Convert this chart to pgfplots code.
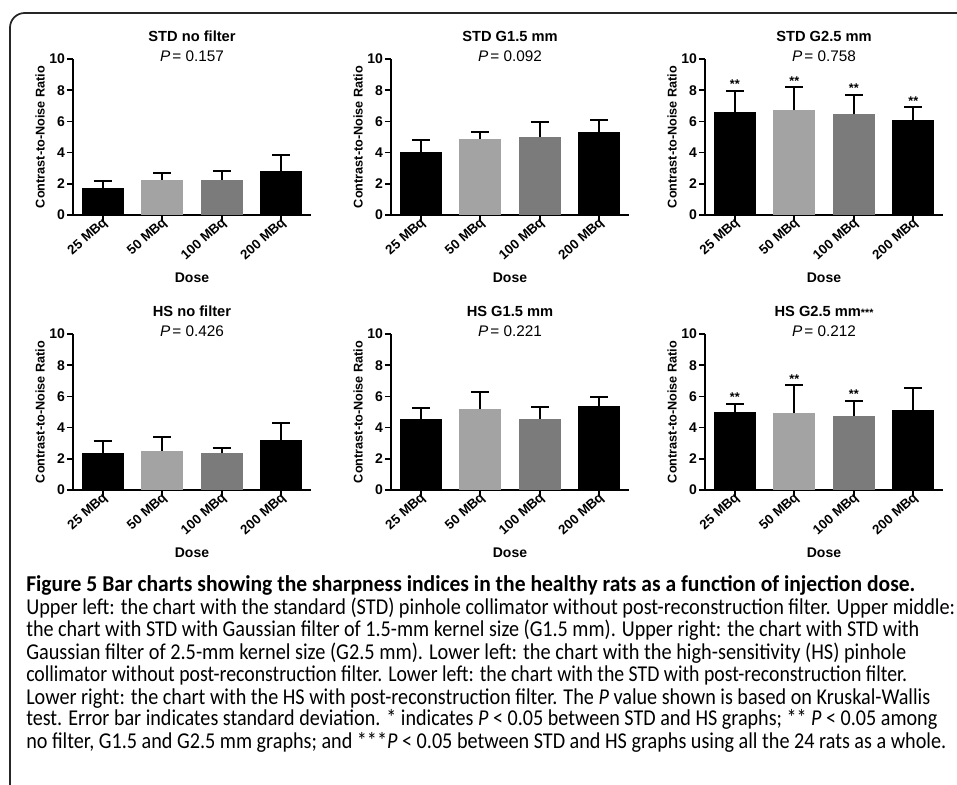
\documentclass[border=0pt]{standalone}
\usepackage{fontspec}
\setmainfont{Liberation Sans}
\newfontfamily\capfont{Carlito}
\usepackage{graphicx}
\usepackage{pgfplots}
\pgfplotsset{compat=1.18}

\definecolor{lgray}{HTML}{A3A3A3}
\definecolor{mgray}{HTML}{7B7B7B}

\pgfplotsset{
  panel/.style={
    scale only axis, width=178.5pt, height=117pt,
    axis lines=left, axis line style={line width=1.7pt, -},
    xmin=0.5, xmax=4.5, ymin=0, ymax=10,
    xtick={1,2,3,4}, xticklabels={25 MBq,50 MBq,100 MBq,200 MBq},
    ytick={0,2,4,6,8,10},
    tick align=outside, major tick length=4.5pt,
    tick style={line width=1.3pt, black},
    /pgf/number format/assume math mode=true,
    yticklabel style={font=\bfseries\fontsize{10.5}{10.5}\selectfont, xshift=2pt},
    xticklabel style={font=\bfseries\fontsize{10}{10}\selectfont, rotate=42, anchor=east, xshift=5pt, yshift=-1.5pt},
    xlabel={Dose},
    xlabel style={font=\bfseries\fontsize{10.5}{10.5}\selectfont, at={(axis description cs:0.5,-0.404)}, anchor=center},
    ylabel={Contrast-to-Noise Ratio},
    ylabel style={font=\bfseries\fontsize{9.5}{9.5}\selectfont, at={(axis description cs:-0.138,0.5)}, anchor=center},
    clip=false,
  },
  cbar/.style={ybar, bar width=31.5pt, bar shift=0pt, draw=none, fill=#1,
    error bars/.cd, y dir=plus, y explicit,
    error bar style={line width=1.5pt, black},
    error mark options={rotate=90, line width=1.5pt, mark size=6.75pt, black}},
}

\newcommand\heads[2]{%
  \node[font=\bfseries\fontsize{11}{11}\selectfont] at (rel axis cs:0.5,1.145) {#1};
  \node[font=\fontsize{11.5}{11.5}\selectfont] at (rel axis cs:0.5,1.02) {\textit{P}\hspace{1.5pt}= #2};}
\newcommand\st[2]{\node[font=\bfseries\fontsize{9.5}{9.5}\selectfont, anchor=south, inner sep=0pt, yshift=1.5pt] at (axis cs:#1,#2) {**};}
\newcommand\capl[3]{\node[anchor=base west, inner sep=0pt] at (19.5pt,#1) {\resizebox{#2}{\height}{\capfont\fontsize{17}{17}\selectfont #3}};}

\begin{document}
\begin{tikzpicture}
\useasboundingbox (0,0) rectangle (717.75pt,588.75pt);
\draw[line width=1.3pt, black!85, rounded corners=11pt] (7.5pt,-20pt) -- (7.5pt,579pt) -- (740pt,579pt);

% ---------- STD no filter
\begin{axis}[panel, at={(54.75pt,427.5pt)}]
\addplot[cbar=black] coordinates {(1,1.73) +- (0,0.47)};
\addplot[cbar=lgray] coordinates {(2,2.26) +- (0,0.43)};
\addplot[cbar=mgray] coordinates {(3,2.26) +- (0,0.58)};
\addplot[cbar=black] coordinates {(4,2.84) +- (0,1.01)};
\heads{STD no filter}{0.157}
\end{axis}

% ---------- STD G1.5 mm
\begin{axis}[panel, at={(293.25pt,427.5pt)}]
\addplot[cbar=black] coordinates {(1,4.06) +- (0,0.76)};
\addplot[cbar=lgray] coordinates {(2,4.88) +- (0,0.47)};
\addplot[cbar=mgray] coordinates {(3,5.03) +- (0,0.93)};
\addplot[cbar=black] coordinates {(4,5.35) +- (0,0.74)};
\heads{STD G1.5 mm}{0.092}
\end{axis}

% ---------- STD G2.5 mm
\begin{axis}[panel, at={(528.75pt,427.5pt)}]
\addplot[cbar=black] coordinates {(1,6.58) +- (0,1.39)};
\addplot[cbar=lgray] coordinates {(2,6.73) +- (0,1.45)};
\addplot[cbar=mgray] coordinates {(3,6.45) +- (0,1.26)};
\addplot[cbar=black] coordinates {(4,6.07) +- (0,0.83)};
\heads{STD G2.5 mm}{0.758}
\st{1}{7.97}\st{2}{8.18}\st{3}{7.71}\st{4}{6.90}
\end{axis}

% ---------- HS no filter
\begin{axis}[panel, at={(54.75pt,221.25pt)}]
\addplot[cbar=black] coordinates {(1,2.40) +- (0,0.73)};
\addplot[cbar=lgray] coordinates {(2,2.51) +- (0,0.89)};
\addplot[cbar=mgray] coordinates {(3,2.34) +- (0,0.36)};
\addplot[cbar=black] coordinates {(4,3.19) +- (0,1.11)};
\heads{HS no filter}{0.426}
\end{axis}

% ---------- HS G1.5 mm
\begin{axis}[panel, at={(293.25pt,221.25pt)}]
\addplot[cbar=black] coordinates {(1,4.57) +- (0,0.71)};
\addplot[cbar=lgray] coordinates {(2,5.17) +- (0,1.11)};
\addplot[cbar=mgray] coordinates {(3,4.57) +- (0,0.77)};
\addplot[cbar=black] coordinates {(4,5.36) +- (0,0.60)};
\heads{HS G1.5 mm}{0.221}
\end{axis}

% ---------- HS G2.5 mm***
\begin{axis}[panel, at={(528.75pt,221.25pt)}]
\addplot[cbar=black] coordinates {(1,5.00) +- (0,0.53)};
\addplot[cbar=lgray] coordinates {(2,4.96) +- (0,1.74)};
\addplot[cbar=mgray] coordinates {(3,4.74) +- (0,0.96)};
\addplot[cbar=black] coordinates {(4,5.15) +- (0,1.38)};
\heads{HS G2.5 mm{\fontsize{8}{8}\selectfont***}}{0.212}
\st{1}{5.53}\st{2}{6.70}\st{3}{5.70}
\end{axis}

% ---------- caption
\capl{144.75pt}{666.75pt}{\bfseries Figure 5 Bar charts showing the sharpness indices in the healthy rats as a function of injection dose.}
\capl{127.5pt}{696.75pt}{Upper left: the chart with the standard (STD) pinhole collimator without post-reconstruction filter. Upper middle:}
\capl{111pt}{669.75pt}{the chart with STD with Gaussian filter of 1.5-mm kernel size (G1.5 mm). Upper right: the chart with STD with}
\capl{93.75pt}{660pt}{Gaussian filter of 2.5-mm kernel size (G2.5 mm). Lower left: the chart with the high-sensitivity (HS) pinhole}
\capl{77.25pt}{660.75pt}{collimator without post-reconstruction filter. Lower left: the chart with the STD with post-reconstruction filter.}
\capl{60pt}{678pt}{Lower right: the chart with the HS with post-reconstruction filter. The \textit{P} value shown is based on Kruskal-Wallis}
\capl{44.25pt}{683.25pt}{test. Error bar indicates standard deviation. * indicates \textit{P} < 0.05 between STD and HS graphs; ** \textit{P} < 0.05 among}
\capl{27pt}{690pt}{no filter, G1.5 and G2.5 mm graphs; and ***\textit{P} < 0.05 between STD and HS graphs using all the 24 rats as a whole.}
\end{tikzpicture}
\end{document}
